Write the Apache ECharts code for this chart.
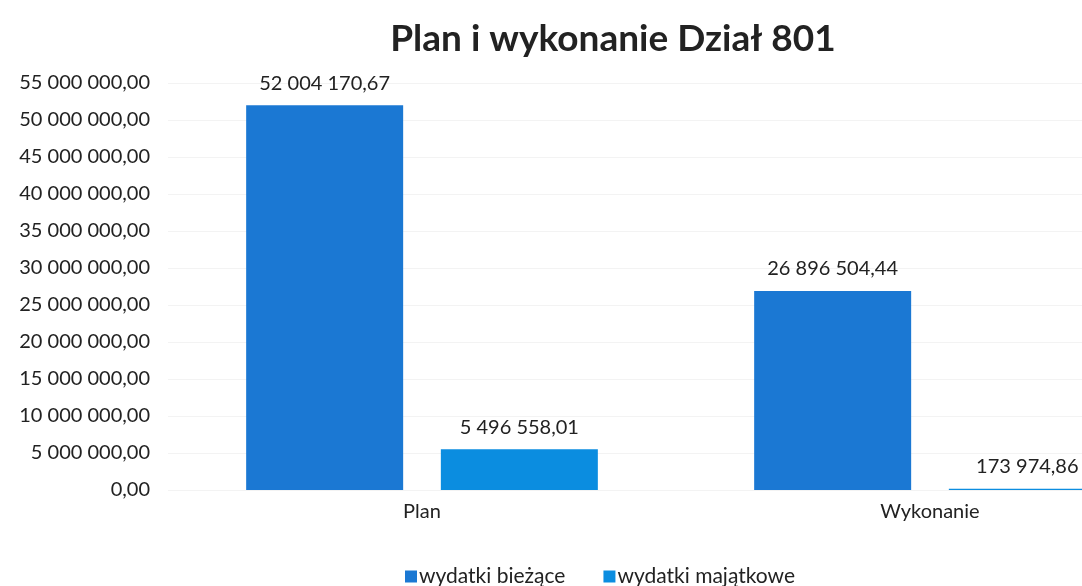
<!DOCTYPE html>
<html lang="pl">
<head>
    <meta charset="UTF-8">
    <title>Plan i wykonanie Dział 801</title>
    <script type="text/javascript" src="https://cdn.jsdelivr.net/npm/echarts@6/dist/echarts.min.js"></script>
</head>
<body style="margin:0">
<div id="chart" style="width:1082px;height:586px;"></div>
<script type="text/javascript">
    var categories = ['Plan', 'Wykonanie'];
    var seriesNames = ['wydatki bieżące', 'wydatki majątkowe'];
    var biezace = [52004170.67, 26896504.44];
    var majatkowe = [5496558.01, 173974.86];
    var colors = ['#1b78d3', '#0b8de0'];

    // 52004170.67 -> "52 004 170,67"
    function plNumber(v) {
        var parts = Number(v).toFixed(2).split('.');
        return parts[0].replace(/\B(?=(\d{3})+(?!\d))/g, ' ') + ',' + parts[1];
    }

    var myChart = echarts.init(document.getElementById('chart'));
    var labelStyle = {
        show: true,
        position: 'top',
        distance: 12,
        color: '#222',
        fontSize: 20,
        fontFamily: 'Lato',
        formatter: function (p) { return plNumber(p.value); }
    };

    // grid 0: background split lines across the whole plot
    // grid 1: bars; categories sit on the grid edges (chart is cut off on the right)
    var option = {
        animation: false,
        color: colors,
        title: {
            text: 'Plan i wykonanie Dział 801',
            left: 608,
            textAlign: 'center',
            top: 16,
            textStyle: {fontFamily: 'Lato', fontWeight: 'bold', fontSize: 37, color: '#222'}
        },
        legend: {
            data: seriesNames,
            left: 400,
            top: 561,
            icon: 'rect',
            itemWidth: 12,
            itemHeight: 12,
            itemGap: 38,
            textStyle: {fontFamily: 'Lato', fontSize: 21, color: '#222', padding: [0, 0, 0, -3]}
        },
        grid: [
            {left: 168, top: 83, right: 0, bottom: 96},
            {left: 422, top: 83, right: 152, bottom: 96}
        ],
        xAxis: [{
            gridIndex: 0,
            type: 'category',
            data: categories,
            show: false
        }, {
            gridIndex: 1,
            type: 'category',
            data: categories,
            boundaryGap: false,
            axisLine: {show: false},
            axisTick: {show: false},
            axisLabel: {fontFamily: 'Lato', fontSize: 20, color: '#222', margin: 12}
        }],
        yAxis: [{
            gridIndex: 0,
            type: 'value',
            min: 0,
            max: 55000000,
            interval: 5000000,
            axisLine: {show: false},
            axisTick: {show: false},
            splitLine: {lineStyle: {color: '#f3f3f3'}},
            axisLabel: {
                fontFamily: 'Lato', fontSize: 20, color: '#222', margin: 18,
                formatter: function (v) { return plNumber(v); }
            }
        }, {
            gridIndex: 1,
            type: 'value',
            min: 0,
            max: 55000000,
            interval: 5000000,
            show: false,
            splitLine: {show: false}
        }],
        series: [{
            name: seriesNames[0],
            type: 'bar',
            xAxisIndex: 1,
            yAxisIndex: 1,
            data: biezace,
            barWidth: 157,
            barGap: '24%',
            clip: false,
            label: labelStyle
        }, {
            name: seriesNames[1],
            type: 'bar',
            xAxisIndex: 1,
            yAxisIndex: 1,
            data: majatkowe,
            barWidth: 157,
            clip: false,
            label: labelStyle
        }]
    };
    myChart.setOption(option);
</script>
</body>
</html>
